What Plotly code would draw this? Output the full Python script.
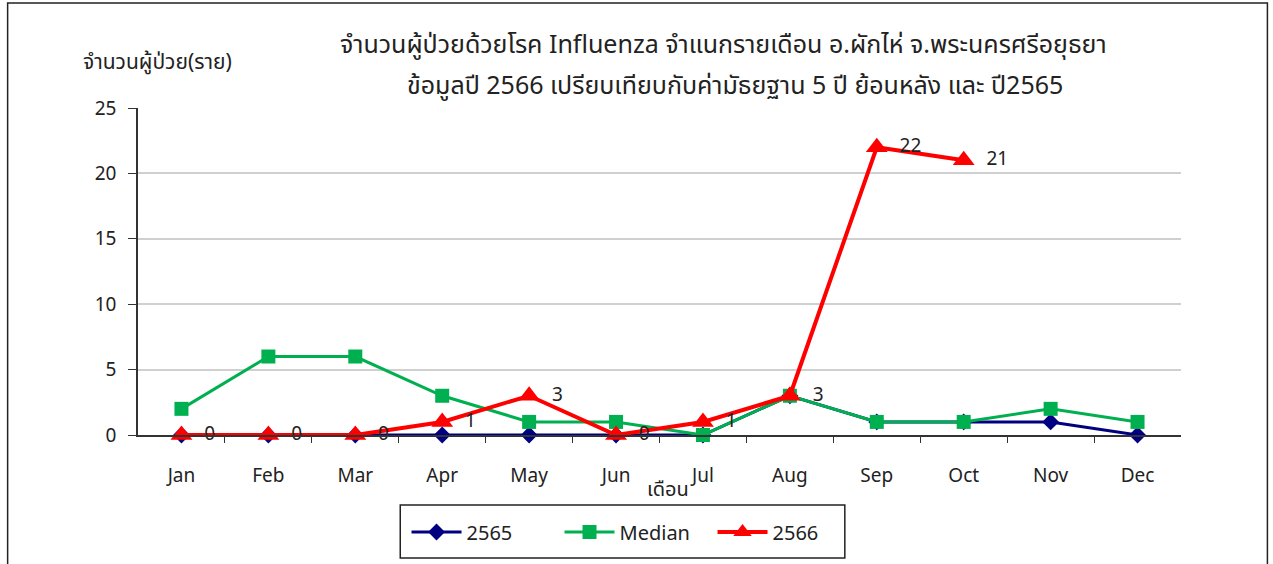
import plotly.graph_objects as go

months = ["Jan", "Feb", "Mar", "Apr", "May", "Jun", "Jul", "Aug", "Sep", "Oct", "Nov", "Dec"]
y2565 = [0, 0, 0, 0, 0, 0, 0, 3, 1, 1, 1, 0]
median = [2, 6, 6, 3, 1, 1, 0, 3, 1, 1, 2, 1]
y2566 = [0, 0, 0, 1, 3, 0, 1, 3, 22, 21]

title_line1 = "จำนวนผู้ป่วยด้วยโรค Influenza จำแนกรายเดือน อ.ผักไห่ จ.พระนครศรีอยุธยา"
title_line2 = "ข้อมูลปี 2566 เปรียบเทียบกับค่ามัธยฐาน 5 ปี ย้อนหลัง และ ปี2565"
ytitle = "จำนวนผู้ป่วย(ราย)"
xtitle = "เดือน"

FONT = "Tahoma, 'Noto Sans Thai', 'Noto Sans', 'DejaVu Sans', sans-serif"

x_idx = list(range(len(months)))

# plot area in page pixels
PL, PR, PT, PB = 137.5, 1181.5, 108, 435
PW, PH = PR - PL, PB - PT


def px(x):
    return (x - PL) / PW


def py(y):
    return (PB - y) / PH


fig = go.Figure()
fig.add_trace(go.Scatter(
    x=x_idx, y=y2565, name="2565", mode="lines+markers",
    line=dict(color="#000080", width=3),
    marker=dict(symbol="diamond", size=13, color="#000080"),
    cliponaxis=False,
))
fig.add_trace(go.Scatter(
    x=x_idx, y=median, name="Median", mode="lines+markers",
    line=dict(color="#00B050", width=3),
    marker=dict(symbol="square", size=14, color="#00B050"),
    cliponaxis=False,
))
fig.add_trace(go.Scatter(
    x=x_idx[:len(y2566)], y=y2566, name="2566", mode="lines+markers+text",
    line=dict(color="#FF0000", width=4),
    marker=dict(symbol="triangle-up", size=19, color="#FF0000"),
    text=["  " + str(v) for v in y2566], textposition="middle right",
    textfont=dict(size=19, color="#222222", family=FONT),
    cliponaxis=False,
))

fig.update_layout(
    width=1273, height=564,
    margin=dict(l=PL, r=1273 - PR, t=PT, b=564 - PB),
    paper_bgcolor="white", plot_bgcolor="white",
    font=dict(family=FONT, size=19, color="#222222"),
    showlegend=True,
    legend=dict(orientation="h", x=px(636), xanchor="center",
                y=py(532), yanchor="middle",
                borderwidth=0, bgcolor="rgba(0,0,0,0)",
                font=dict(size=20, color="#222222", family=FONT),
                itemwidth=50, entrywidth=88, entrywidthmode="pixels"),
    xaxis=dict(
        range=[-0.5, 11.5], tickmode="array", tickvals=x_idx, ticktext=months,
        showgrid=False, zeroline=False, showline=True, linecolor="#333333", linewidth=1.5,
        ticks="", tickfont=dict(size=19, color="#222222"),
        minor=dict(tickmode="array", tickvals=[i + 0.5 for i in x_idx[:-1]],
                   ticks="outside", ticklen=6, tickcolor="#333333", showgrid=False),
        ticklabelstandoff=22,
    ),
    yaxis=dict(
        range=[0, 25], dtick=5, showgrid=True, gridcolor="#D0D0D0", gridwidth=1.5,
        zeroline=False, showline=True, linecolor="#333333", linewidth=1.5,
        ticks="outside", ticklen=8, tickcolor="#333333",
        tickfont=dict(size=19, color="#222222"), ticklabelstandoff=8,
    ),
    annotations=[
        dict(text=title_line1, xref="paper", yref="paper",
             x=px(724), y=py(45), xanchor="center", yanchor="middle",
             showarrow=False, font=dict(size=25, color="#222222", family=FONT)),
        dict(text=title_line2, xref="paper", yref="paper",
             x=px(735), y=py(86), xanchor="center", yanchor="middle",
             showarrow=False, font=dict(size=25, color="#222222", family=FONT)),
        dict(text=ytitle, xref="paper", yref="paper",
             x=px(157), y=py(62), xanchor="center", yanchor="middle",
             showarrow=False, font=dict(size=21, color="#222222", family=FONT)),
        dict(text=xtitle, xref="paper", yref="paper",
             x=px(668), y=py(490), xanchor="center", yanchor="middle",
             showarrow=False, font=dict(size=20, color="#222222", family=FONT)),
    ],
    shapes=[
        dict(type="rect", xref="paper", yref="paper",
             x0=px(7), x1=px(1268), y0=py(600), y1=py(3),
             line=dict(color="#222222", width=1.5), fillcolor="rgba(0,0,0,0)", layer="below"),
        dict(type="rect", xref="paper", yref="paper",
             x0=px(400), x1=px(845), y0=py(558), y1=py(505),
             line=dict(color="#222222", width=1.5), fillcolor="white", layer="below"),
    ],
)

fig.write_html("out.html", config={"displayModeBar": False},
               post_script="document.body.style.margin='0px';document.body.style.overflow='hidden';")
